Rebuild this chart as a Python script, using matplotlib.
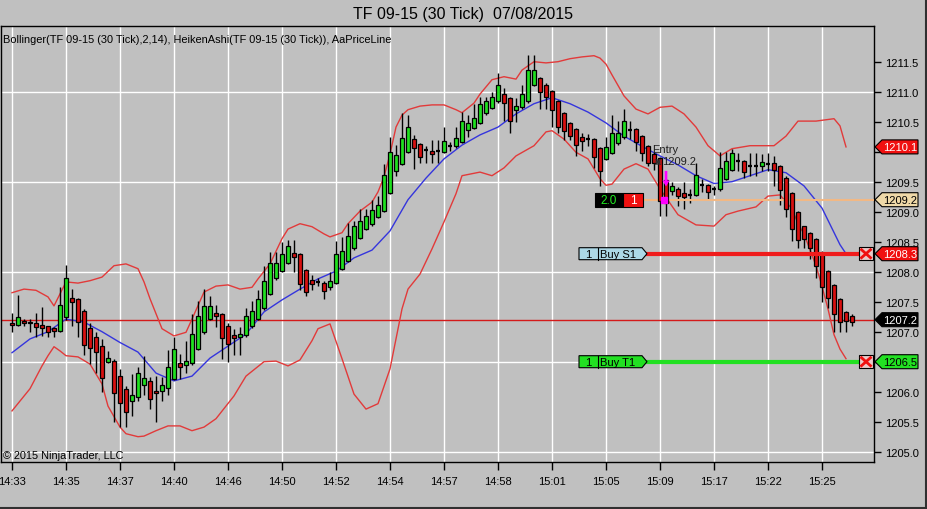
import numpy as np
import matplotlib
matplotlib.use("Agg")
import matplotlib.pyplot as plt
from matplotlib.patches import Rectangle, Polygon
from matplotlib.lines import Line2D
import matplotlib.transforms as mtransforms

# ---------------- data ----------------
time_labels = ["14:33", "14:35", "14:37", "14:40", "14:46", "14:50", "14:52", "14:54",
               "14:57", "14:58", "15:01", "15:05", "15:09", "15:17", "15:22", "15:25"]
time_label_bars = [0, 9, 18, 27, 36, 45, 54, 63, 72, 81, 90, 99, 108, 117, 126, 135]

ha_open = [1207.14,1207.12,1207.18,1207.16,1207.14,1207.12,1207.09,1207.06,1207.02,1207.24,
1207.57,1207.54,1207.34,1207.06,1206.91,1206.77,1206.50,1206.52,1206.27,1206.05,
1205.85,1205.91,1206.11,1206.17,1206.02,1206.02,1206.06,1206.22,1206.48,1206.45,
1206.48,1206.72,1206.99,1207.21,1207.32,1207.29,1207.09,1206.95,1206.92,1206.94,
1207.09,1207.22,1207.39,1207.63,1207.89,1208.02,1208.15,1208.31,1208.29,1208.03,
1207.86,1207.83,1207.82,1207.75,1207.81,1208.05,1208.18,1208.39,1208.57,1208.71,
1208.79,1208.92,1209.01,1209.32,1209.68,1209.80,1210.00,1210.21,1210.13,1210.03,
1210.02,1210.01,1210.00,1210.10,1210.09,1210.17,1210.36,1210.40,1210.48,1210.64,
1210.73,1210.84,1210.97,1210.90,1210.70,1210.74,1210.84,1211.12,1211.23,1211.12,
1211.01,1210.84,1210.64,1210.48,1210.38,1210.25,1210.21,1210.21,1210.06,1209.88,
1209.98,1210.14,1210.24,1210.37,1210.38,1210.26,1210.10,1209.96,1209.89,1209.53,
1209.34,1209.38,1209.32,1209.28,1209.28,1209.45,1209.45,1209.38,1209.38,1209.55,
1209.70,1209.84,1209.84,1209.76,1209.77,1209.77,1209.80,1209.82,1209.76,1209.57,
1209.31,1209.00,1208.77,1208.65,1208.54,1208.32,1208.01,1207.78,1207.54,1207.33,
1207.27]

ha_close = [1207.11,1207.24,1207.15,1207.14,1207.08,1207.06,1206.99,1207.01,1207.45,1207.90,
1207.49,1207.16,1206.78,1206.73,1206.66,1206.23,1206.56,1205.98,1205.81,1205.67,
1205.95,1206.31,1206.22,1205.88,1205.98,1206.11,1206.41,1206.71,1206.41,1206.51,
1206.96,1207.26,1207.43,1207.43,1207.26,1206.89,1206.80,1206.89,1206.96,1207.26,
1207.35,1207.54,1207.85,1208.15,1208.15,1208.29,1208.43,1208.25,1207.79,1207.66,
1207.79,1207.83,1207.68,1207.85,1208.29,1208.34,1208.60,1208.76,1208.85,1208.93,
1209.03,1209.12,1209.62,1210.00,1209.94,1210.23,1210.42,1210.06,1209.91,1210.03,
1209.97,1210.01,1210.18,1210.10,1210.23,1210.51,1210.48,1210.56,1210.80,1210.84,
1210.91,1211.12,1210.81,1210.51,1210.77,1210.97,1211.37,1211.37,1210.99,1210.92,
1210.69,1210.42,1210.34,1210.27,1210.12,1210.18,1210.21,1209.91,1209.68,1210.08,
1210.31,1210.31,1210.51,1210.38,1210.16,1209.98,1209.82,1209.82,1209.18,1209.14,
1209.42,1209.27,1209.24,1209.28,1209.62,1209.45,1209.33,1209.38,1209.73,1209.85,
1209.97,1209.84,1209.67,1209.76,1209.77,1209.83,1209.80,1209.70,1209.37,1209.04,
1208.72,1208.53,1208.55,1208.40,1208.09,1207.74,1207.56,1207.29,1207.16,1207.18,
1207.16]

ha_high = [1207.31,1207.61,1207.21,1207.21,1207.31,1207.41,1207.10,1207.08,1207.74,1208.11,
1207.71,1207.56,1207.38,1207.14,1207.00,1206.88,1206.68,1206.55,1206.38,1206.10,
1206.30,1206.41,1206.60,1206.25,1206.27,1206.25,1206.70,1206.91,1206.63,1206.85,
1207.30,1207.52,1207.72,1207.60,1207.45,1207.31,1207.15,1207.04,1207.08,1207.40,
1207.52,1207.70,1208.10,1208.33,1208.33,1208.49,1208.53,1208.53,1208.31,1208.05,
1207.95,1207.90,1207.84,1208.00,1208.51,1208.58,1208.82,1208.84,1209.04,1209.04,
1209.20,1209.27,1209.79,1210.25,1210.12,1210.64,1210.62,1210.28,1210.15,1210.09,
1210.20,1210.20,1210.42,1210.16,1210.42,1210.67,1210.62,1210.79,1210.92,1210.92,
1211.00,1211.31,1211.06,1210.92,1210.90,1211.12,1211.62,1211.62,1211.25,1211.14,
1211.03,1210.86,1210.66,1210.50,1210.40,1210.32,1210.30,1210.23,1210.08,1210.24,
1210.62,1210.52,1210.71,1210.52,1210.40,1210.28,1210.12,1210.00,1209.91,1209.55,
1209.50,1209.42,1209.49,1209.38,1209.82,1209.55,1209.47,1209.43,1210.00,1210.00,
1210.04,1209.98,1209.86,1209.98,1209.98,1209.96,1209.98,1209.93,1209.78,1209.59,
1209.33,1209.02,1208.77,1208.67,1208.56,1208.34,1208.03,1207.80,1207.56,1207.35,
1207.29]

ha_low = [1206.99,1207.10,1207.10,1207.00,1206.91,1206.93,1206.91,1206.91,1207.00,1207.20,
1207.10,1206.91,1206.61,1206.46,1206.31,1206.00,1206.48,1205.50,1205.42,1205.42,
1205.60,1205.85,1205.95,1205.71,1205.50,1205.85,1205.95,1206.20,1206.21,1206.32,
1206.45,1206.70,1206.97,1207.19,1207.08,1206.55,1206.50,1206.62,1206.62,1206.92,
1207.07,1207.20,1207.37,1207.61,1207.87,1208.00,1208.13,1208.00,1207.70,1207.60,
1207.70,1207.76,1207.54,1207.70,1207.79,1208.03,1208.16,1208.37,1208.55,1208.69,
1208.77,1208.90,1208.99,1209.30,1209.60,1209.78,1209.98,1209.72,1209.82,1209.82,
1209.82,1209.82,1209.98,1210.02,1210.07,1210.15,1210.24,1210.38,1210.46,1210.62,
1210.71,1210.82,1210.51,1210.32,1210.50,1210.72,1210.82,1211.10,1210.72,1210.72,
1210.42,1210.32,1210.20,1210.20,1209.93,1210.02,1210.10,1209.73,1209.43,1209.86,
1209.96,1210.12,1210.22,1210.22,1210.01,1209.84,1209.76,1209.70,1208.93,1208.93,
1209.28,1209.10,1209.04,1209.15,1209.26,1209.33,1209.22,1209.28,1209.35,1209.53,
1209.68,1209.68,1209.57,1209.60,1209.60,1209.68,1209.68,1209.43,1209.12,1208.92,
1208.51,1208.40,1208.40,1208.21,1207.90,1207.49,1207.39,1207.00,1207.00,1207.00,
1207.10]

# Bollinger(14, 2) at these bars
mid_bars = [0,3,6,9,12,15,18,21,24,27,30,33,36,39,42,45,48,51,54,57,60,63,66,69,72,75,78,81,
            84,87,90,93,96,99,102,105,108,111,114,117,120,123,126,129,132,135,138,139]
mid_vals = [1206.65,1206.88,1207.00,1207.21,1207.16,1207.00,1206.82,1206.66,1206.31,1206.18,
            1206.26,1206.56,1206.76,1206.96,1207.33,1207.53,1207.71,1207.88,1208.01,1208.23,
            1208.36,1208.68,1209.20,1209.56,1209.88,1210.11,1210.28,1210.41,1210.63,1210.80,
            1210.90,1210.80,1210.66,1210.48,1210.26,1210.09,1209.93,1209.78,1209.60,1209.47,
            1209.50,1209.60,1209.70,1209.65,1209.43,1209.06,1208.45,1208.30]

upper_bars = [0,2,4,6,7,9,11,13,15,17,19,21,22,23,25,27,29,30,32,34,36,38,40,41,43,45,46,48,
              50,52,53,55,56,58,60,61,62,63,64,65,66,68,70,72,74,75,77,78,80,82,84,85,87,89,
              91,93,95,97,98,99,100,102,104,106,108,110,112,114,116,118,120,123,127,129,131,
              134,137,138,139]
upper_vals = [1207.65,1207.71,1207.69,1207.58,1207.43,1207.83,1207.81,1207.85,1207.91,1208.10,
              1208.13,1208.05,1207.83,1207.55,1207.05,1206.93,1206.99,1207.21,1207.66,1207.76,
              1207.78,1207.71,1207.74,1207.88,1208.13,1208.55,1208.71,1208.80,1208.75,1208.63,
              1208.58,1208.65,1208.80,1209.01,1209.16,1209.33,1209.58,1209.96,1210.41,1210.61,
              1210.70,1210.76,1210.78,1210.78,1210.70,1210.65,1210.81,1210.96,1211.20,1211.25,
              1211.21,1211.36,1211.50,1211.48,1211.50,1211.55,1211.58,1211.60,1211.56,1211.46,
              1211.28,1210.93,1210.71,1210.63,1210.74,1210.76,1210.63,1210.41,1210.10,1209.93,
              1210.05,1210.10,1210.10,1210.26,1210.51,1210.51,1210.55,1210.43,1210.08]

lower_bars = [0,3,5,6,7,8,9,11,13,15,16,18,19,21,22,24,26,28,30,32,34,37,39,42,44,46,48,50,51,
              53,55,57,59,61,63,65,66,68,70,72,74,75,78,80,82,84,87,89,90,92,94,96,98,99,100,
              102,104,106,108,111,114,117,119,121,124,126,128,129,130,131,132,134,135,136,137,
              138,139]
lower_vals = [1205.68,1206.05,1206.43,1206.60,1206.75,1206.68,1206.60,1206.58,1206.46,1206.13,
              1205.76,1205.41,1205.30,1205.25,1205.26,1205.35,1205.43,1205.43,1205.35,1205.41,
              1205.55,1205.93,1206.26,1206.50,1206.51,1206.43,1206.53,1206.85,1207.05,
              1207.13,1206.55,1205.96,1205.71,1205.80,1206.38,1207.38,1207.71,1207.96,1208.38,
              1208.83,1209.30,1209.60,1209.66,1209.60,1209.73,1209.93,1210.10,1210.33,1210.35,
              1210.21,1209.99,1209.88,1209.55,1209.44,1209.46,1209.71,1209.80,1209.71,1209.38,
              1208.95,1208.78,1208.76,1208.95,1209.01,1209.08,1209.26,1209.28,1209.16,1209.05,
              1208.80,1208.63,1208.10,1207.76,1207.38,1206.95,1206.71,1206.55]

last_price = 1207.2
avg_entry_price = 1209.2
stop_price = 1208.3
target_price = 1206.5
entry_bar = 109
position_size = "2.0"
position_qty = "1"

# ---------------- style ----------------
BG = "#C0C0C0"
UP = "#1FE01F"
DOWN = "#D81010"
BAND = "#E23A3A"
MIDC = "#3535DD"
SANS = ["Liberation Sans", "DejaVu Sans"]

W, H = 928, 510
AX_L, AX_R, AX_T, AX_B = 1, 874, 27, 463      # plot area in pixels
fig = plt.figure(figsize=(W / 100, H / 100), dpi=100, facecolor=BG)
ax = fig.add_axes([AX_L / W, (H - AX_B) / H, (AX_R - AX_L) / W, (AX_B - AX_T) / H])
ax.set_facecolor(BG)

PX_PER_UNIT = 60.0
ax.set_ylim(1205 - (AX_B - 452.7) / PX_PER_UNIT, 1205 + (452.7 - AX_T) / PX_PER_UNIT)
ax.set_xlim((AX_L - 12) / 6, (AX_R - 12) / 6)

def fx(px):
    return (px - AX_L) / (AX_R - AX_L)

blend = mtransforms.blended_transform_factory(ax.transAxes, ax.transData)
hpx = 1.0 / PX_PER_UNIT

# grid
for b in time_label_bars:
    ax.axvline(b, color="white", lw=1, zorder=0.5)
for g in [1205.0, 1206.5, 1208.0, 1209.5, 1211.0]:
    ax.axhline(g, color="white", lw=1, zorder=0.5)

# price line
ax.axhline(last_price, color="#D41A1A", lw=1, zorder=1)

# Bollinger
ax.plot(upper_bars, upper_vals, color=BAND, lw=1, zorder=2)
ax.plot(lower_bars, lower_vals, color=BAND, lw=1, zorder=2)
ax.plot(mid_bars, mid_vals, color=MIDC, lw=1, zorder=2)

# Heiken Ashi candles
bw = 0.72
for i, (o, h, l, c) in enumerate(zip(ha_open, ha_high, ha_low, ha_close)):
    ax.vlines(i, l, h, color="black", lw=1, zorder=3)
    if abs(c - o) < 0.015:
        ax.hlines(o, i - bw / 2, i + bw / 2, color="black", lw=1.6, zorder=4)
    else:
        ax.add_patch(Rectangle((i - bw / 2, min(o, c)), bw, abs(c - o),
                               facecolor=UP if c > o else DOWN, edgecolor="black",
                               lw=0.9, zorder=4))

# average entry line
ax.plot([fx(643), 1.0], [avg_entry_price] * 2, transform=blend, color="#F2B884",
        lw=1.5, zorder=3)

# stop / target lines
ax.plot([fx(642), fx(860)], [stop_price] * 2, transform=blend, color="#F01C1C", lw=3, zorder=5)
ax.plot([fx(642), fx(860)], [target_price] * 2, transform=blend, color="#22E022", lw=3, zorder=5)

def order_label(price, txt, fc):
    h = 6 * hpx
    ax.add_patch(Polygon([(fx(579), price - h), (fx(642), price - h), (fx(647), price),
                          (fx(642), price + h), (fx(579), price + h)], closed=True,
                         transform=blend, facecolor=fc, edgecolor="black", lw=0.8, zorder=6))
    ax.plot([fx(598), fx(598)], [price - h, price + h], transform=blend, color="black",
            lw=0.8, zorder=7)
    ax.text(fx(588.5), price, "1", transform=blend, ha="center", va="center",
            fontsize=8, family=SANS, zorder=7)
    ax.text(fx(600.5), price, txt, transform=blend, ha="left", va="center",
            fontsize=8, family=SANS, zorder=7)
    # X close box
    ax.add_patch(Rectangle((fx(859), price - 6.5 * hpx), fx(873) - fx(859), 13 * hpx,
                           transform=blend, facecolor="#EBC9C9", edgecolor="black",
                           lw=0.8, zorder=6))
    ax.plot([fx(861.5), fx(870.5)], [price - 4 * hpx, price + 4 * hpx], transform=blend,
            color="#F01010", lw=2, zorder=7)
    ax.plot([fx(861.5), fx(870.5)], [price + 4 * hpx, price - 4 * hpx], transform=blend,
            color="#F01010", lw=2, zorder=7)

order_label(stop_price, "Buy S1", "#ADD8E6")
order_label(target_price, "Buy T1", "#22E022")

# position box "2.0 | 1"
ax.add_patch(Rectangle((fx(595), avg_entry_price - 7 * hpx), fx(623) - fx(595), 14 * hpx,
                       transform=blend, facecolor="black", edgecolor="black", lw=0.8, zorder=6))
ax.add_patch(Rectangle((fx(623), avg_entry_price - 7 * hpx), fx(643) - fx(623), 14 * hpx,
                       transform=blend, facecolor="#F01010", edgecolor="black", lw=0.8, zorder=6))
ax.text(fx(609), avg_entry_price, position_size, transform=blend, ha="center", va="center",
        fontsize=8.5, color="#22EE22", family=SANS, zorder=7)
ax.text(fx(633), avg_entry_price, position_qty, transform=blend, ha="center", va="center",
        fontsize=8.5, color="white", family=SANS, zorder=7)

# entry marker
ax.text(entry_bar - 2.33, 1210.04, "Entry", ha="left", va="center", fontsize=8,
        color="#202020", family=SANS, zorder=7)
ax.text(entry_bar - 0.6, 1209.85, "1209.2", ha="left", va="center", fontsize=8,
        color="#202020", family=SANS, zorder=7)
ax.text(entry_bar - 2.2, 1209.85, "\u25a3", ha="left", va="center", fontsize=6,
        color="#303030", family=["DejaVu Sans"], zorder=7)
# magenta down arrow (shaft + head)
ax.add_patch(Polygon([(entry_bar - 0.22, 1209.68), (entry_bar + 0.22, 1209.68),
                      (entry_bar + 0.22, 1209.52), (entry_bar + 0.6, 1209.52),
                      (entry_bar, 1209.42), (entry_bar - 0.6, 1209.52),
                      (entry_bar - 0.22, 1209.52)], closed=True,
                     facecolor="#FF00FF", edgecolor="none", zorder=8))
ax.plot([entry_bar - 0.3], [avg_entry_price], marker="s", ms=4, color="#FF00FF", zorder=8)

# right-axis tags
def tag(price, txt, fc, tc):
    h = 7 * hpx
    ax.add_patch(Polygon([(fx(875), price), (fx(882), price + h), (fx(918), price + h),
                          (fx(918), price - h), (fx(882), price - h)], closed=True,
                         transform=blend, facecolor=fc, edgecolor="black", lw=0.8,
                         zorder=20, clip_on=False))
    ax.text(fx(900), price, txt, transform=blend, ha="center", va="center", fontsize=8,
            color=tc, family=SANS, zorder=21, clip_on=False)

tag(upper_vals[-1], "%.1f" % upper_vals[-1], "#F01010", "white")
tag(avg_entry_price, "%.1f" % avg_entry_price, "#EFD9A8", "black")
tag(stop_price, "%.1f" % stop_price, "#F01010", "white")
tag(last_price, "%.1f" % last_price, "black", "white")
tag(target_price, "%.1f" % target_price, "#22E022", "black")

# axes / ticks
for s in ax.spines.values():
    s.set_color("black")
    s.set_linewidth(1)
ax.yaxis.tick_right()
yt = np.arange(1205.0, 1211.51, 0.5)
ax.set_yticks(yt)
# labels hidden behind the price tags are left blank
hidden = [1206.5, 1210.0]
ax.set_yticklabels(["" if any(abs(v - hv) < 1e-6 for hv in hidden) else "%.1f" % v
                    for v in yt], family=SANS)
ax.set_xticks(time_label_bars)
ax.set_xticklabels(time_labels, family=SANS)
ax.tick_params(axis="y", direction="out", length=5, width=1, labelsize=8, pad=3)
ax.tick_params(axis="x", direction="out", length=6, width=1, labelsize=8, pad=4)

# texts
fig.text(463 / W, 1 - 14 / H, "TF 09-15 (30 Tick)  07/08/2015", ha="center", va="center",
         fontsize=11.5, family=SANS)
ax.text(fx(3), 1 - (40 - AX_T) / (AX_B - AX_T),
        "Bollinger(TF 09-15 (30 Tick),2,14), HeikenAshi(TF 09-15 (30 Tick)), AaPriceLine",
        transform=ax.transAxes, ha="left", va="center", fontsize=7.9, family=SANS, zorder=9)
ax.text(fx(3), 1 - (456 - AX_T) / (AX_B - AX_T), "\u00a9 2015 NinjaTrader, LLC",
        transform=ax.transAxes, ha="left", va="center", fontsize=7.8, family=SANS, zorder=9)

# window frame
fig.add_artist(Line2D([0, 1], [1.5 / H, 1.5 / H], color="#303030", lw=1.5))
fig.add_artist(Line2D([1 - 1.5 / W, 1 - 1.5 / W], [0, 1], color="#303030", lw=1.5))

fig.savefig("out.png", dpi=100, facecolor=BG)
